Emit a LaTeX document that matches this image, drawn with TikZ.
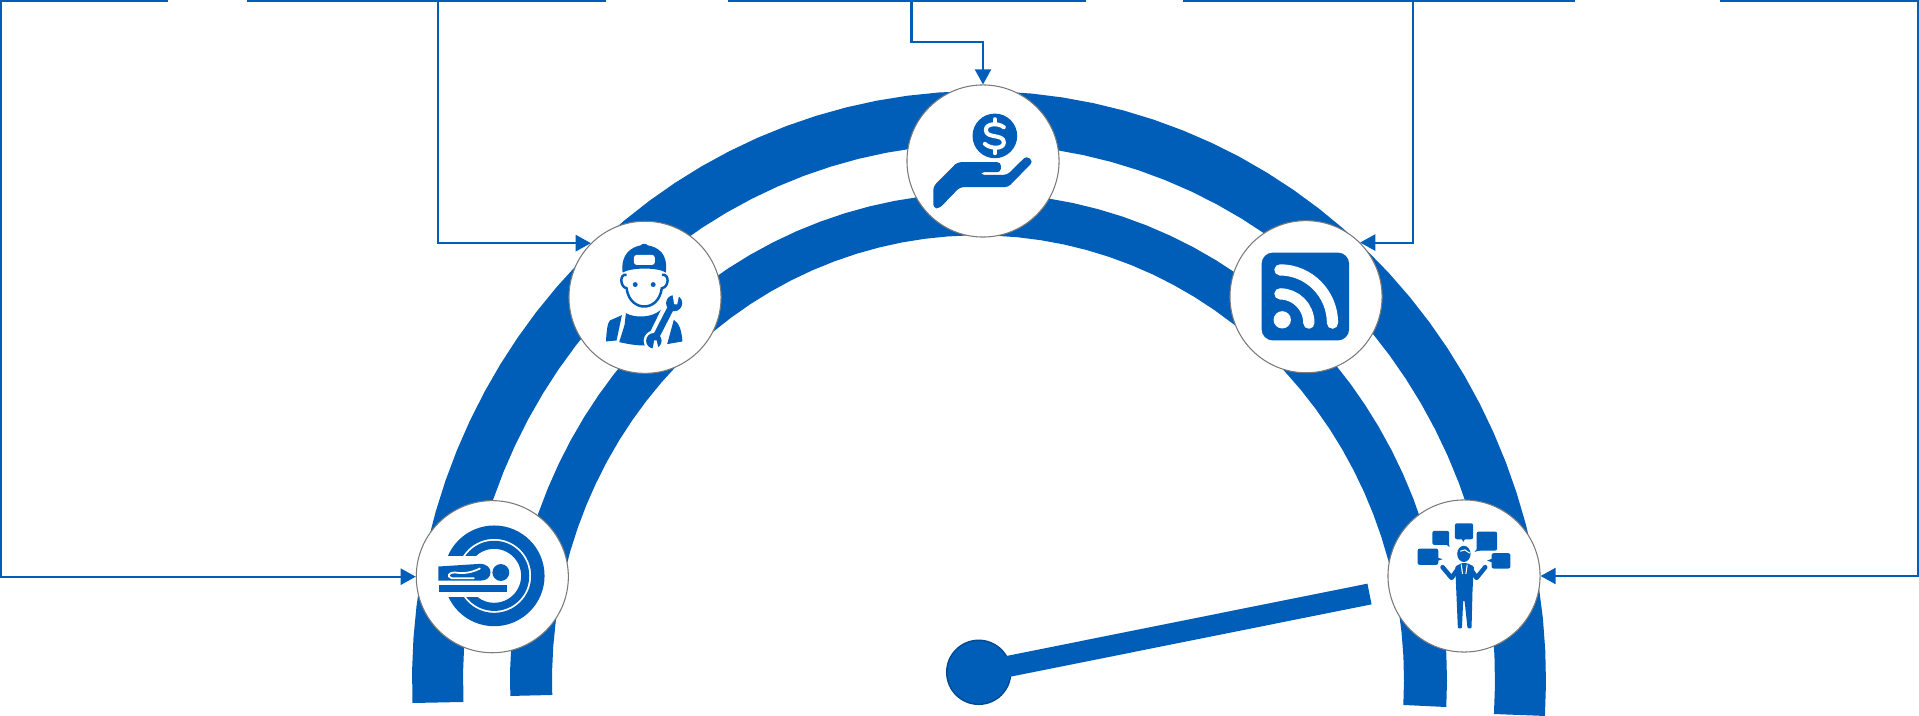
\documentclass[tikz,border=0pt]{standalone}
\usepackage{tikz}
\usetikzlibrary{arrows.meta,positioning}
\definecolor{brand}{HTML}{005EB8}
\definecolor{branddark}{HTML}{004A94}
\definecolor{ringgray}{HTML}{7A7A7A}
\begin{document}
\begin{tikzpicture}[
    x=0.01cm, y=-0.01cm,
    band/.style={fill=brand, draw=none},
    station/.style={circle, draw=ringgray, line width=0.3pt, fill=white, minimum size=1.52cm, inner sep=0pt},
    wire/.style={draw=brand, line width=0.58pt},
    feed/.style={wire, -{Triangle[length=4.3pt,width=4.6pt]}},
    glyph/.style={fill=brand, draw=none},
    icon/.style={x=0.003333cm, y=-0.003333cm}
  ]
  \useasboundingbox (0,0) rectangle (1919,716);
  % the two curved tracks
  \fill[band] plot[domain=-3.5:182.24,samples=60] ({979+567*cos(\x)},{680-589*sin(\x)})
    -- plot[domain=182.35:-3.64,samples=60] ({979+516*cos(\x)},{680-536*sin(\x)}) -- cycle;
  \fill[band] plot[domain=-3.18:181.88,samples=60] ({978.5+468.5*cos(\x)},{680-487*sin(\x)})
    -- plot[domain=181.93:-3.22,samples=60] ({978+426*cos(\x)},{680-444.7*sin(\x)}) -- cycle;
  % dial
  \node[circle, fill=brand, draw=branddark, line width=0.4pt, minimum size=0.64cm, inner sep=0pt] (hub) at (978.7,672.3) {};
  \coordinate (needleEnd) at (1369.5,594);
  \draw[draw=brand, line width=6pt, shorten <=-1.5pt] (hub) -- (needleEnd);
  % stations
  \node[station] (scan) at (492.3,576.7) {};
  \node[station] (mech) at (645,297.3) {};
  \node[station] (pay) at (983,161) {};
  \node[station] (feedicon) at (1306,296.7) {};
  \node[station] (talk) at (1464,576) {};
  % upper edge
  \foreach \a/\b in {0/168,247/606,728/1086,1183/1575,1720/1919}
    \draw[wire] (\a,1) -- (\b,1);
  % feeds
  \coordinate (scanIn) at (1,0);
  \coordinate (mechIn) at (438,0);
  \coordinate (payIn) at (911.5,0);
  \coordinate (payBend) at (983,42);
  \coordinate (feedIn) at (1413,0);
  \coordinate (talkIn) at (1918,0);
  \draw[feed] (scanIn) |- (scan.west);
  \draw[feed] (mechIn) |- (mech.north west);
  \draw[feed] (payIn) |- (payBend) -- (pay.north);
  \draw[feed] (feedIn) |- (feedicon.north east);
  \draw[feed] (talkIn) |- (talk.east);
  % scanner
  \begin{scope}[shift={(400,480)},icon]
    \draw[brand, line width=3.8pt] (283,288) circle[radius=12.42pt];
    \draw[brand, line width=2.3pt] (283,288) circle[radius=8.82pt];
    \fill[white] (110,228) rectangle (283,352);
    \fill[glyph] (115,260) -- (240,252) .. controls (262,252) and (272,265) .. (272,277)
      .. controls (272,292) and (260,302) .. (245,302) -- (115,302) -- cycle;
    \draw[white, line width=0.5pt, line cap=round] (222,295) -- (155,295) .. controls (140,290) and (145,278) .. (165,278)
      .. controls (195,282) and (215,278) .. (240,266);
    \fill[glyph] (303,278) circle[radius=2.4pt];
    \fill[glyph] (117,315) rectangle (320,336);
  \end{scope}
  % mechanic
  \begin{scope}[shift={(560,210)},icon]
    \fill[glyph] (188,188) .. controls (182,130) and (215,112) .. (243,106)
      .. controls (246,100) and (260,100) .. (263,106)
      .. controls (295,112) and (325,130) .. (318,188)
      .. controls (295,172) and (215,172) .. (188,188) -- cycle;
    \fill[white, rounded corners=0.8pt] (222,135) rectangle (285,165);
    \draw[brand, line width=0.7pt] (200,195) .. controls (178,190) and (180,232) .. (200,235)
      .. controls (205,275) and (232,290) .. (253,290)
      .. controls (275,290) and (300,275) .. (306,235)
      .. controls (328,232) and (330,190) .. (306,195);
    \fill[glyph] (226,224) circle[radius=0.7pt];
    \fill[glyph] (280,224) circle[radius=0.7pt];
    \fill[glyph] (138,395) .. controls (140,365) and (142,340) .. (150,332) -- (186,316) -- (170,392) -- cycle;
    \fill[glyph] (198,310) .. controls (225,325) and (275,325) .. (303,300) -- (265,378) -- (258,407) .. controls (230,408) and (200,402) .. (178,397) -- (194,345) -- cycle;
    \fill[glyph] (342,330) .. controls (358,340) and (365,360) .. (368,395) -- (322,403) -- cycle;
    \fill[white] (340,280) circle[radius=2.9pt];
    \fill[white] (282,393) circle[radius=2.9pt];
    \draw[white, line width=3.1pt] (282,393) -- (340,280);
    \draw[brand, line width=1.9pt] (282,393) -- (340,280);
    \fill[glyph] (343,280) circle[radius=2.3pt];
    \fill[glyph] (282,393) circle[radius=2.2pt];
    \fill[white] (338,252) -- (358,256) -- (352,284) -- (343,283) -- cycle;
    \fill[white] (278,420) -- (297,420) -- (290,392) -- (283,392) -- cycle;
  \end{scope}
  % payment
  \begin{scope}[shift={(900,80)},icon]
    \fill[glyph] (285,168) circle[radius=6.35pt];
    \draw[white, line width=1.15pt, line cap=round] (312,142) .. controls (295,128) and (258,130) .. (258,150)
      .. controls (258,178) and (312,160) .. (312,188) .. controls (312,208) and (272,208) .. (255,192);
    \draw[white, line width=1.15pt, line cap=round] (285,118) -- (285,130);
    \draw[white, line width=1.15pt, line cap=round] (285,208) -- (285,220);
    \fill[glyph, rounded corners=1pt] (100,385) -- (100,320) -- (172,247) -- (303,247) -- (303,277) -- (242,277)
      -- (242,285) -- (322,285) -- (380,228) -- (400,245) -- (325,322) -- (180,322) -- (118,386) -- cycle;
  \end{scope}
  % feed symbol
  \begin{scope}[shift={(1220,210)},icon]
    \fill[glyph, rounded corners=3.2pt] (125,128) rectangle (388,392);
    \fill[white] (187,330) circle[radius=2.46pt];
    \draw[white, line width=3.2pt, line cap=round] (180,252) .. controls (228,252) and (267,291) .. (267,340);
    \draw[white, line width=3.2pt, line cap=round] (180,180) .. controls (268,180) and (338,252) .. (338,340);
  \end{scope}
  % speaker
  \begin{scope}[shift={(1380,490)},icon]
    \fill[glyph, rounded corners=0.6pt] (113,176) rectangle (175,225);
    \fill[glyph] (172,203) -- (188,208) -- (172,213) -- cycle;
    \fill[glyph, rounded corners=0.6pt] (157,123) rectangle (208,165);
    \fill[glyph] (195,162) -- (209,171) -- (207,160) -- cycle;
    \fill[glyph, rounded corners=0.6pt] (225,100) rectangle (280,148);
    \fill[glyph] (245,145) -- (250,156) -- (257,145) -- cycle;
    \fill[glyph, rounded corners=0.6pt] (290,125) rectangle (352,182);
    \fill[glyph] (293,175) -- (284,186) -- (305,180) -- cycle;
    \fill[glyph, rounded corners=0.6pt] (335,190) rectangle (392,236);
    \fill[glyph] (338,206) -- (322,212) -- (338,218) -- cycle;
    \fill[glyph] (252,192) ellipse[x radius=1.9pt, y radius=2.3pt];
    \draw[white, line width=0.3pt] (241,184) -- (255,180) -- (270,190);
    \draw[brand, line width=1.3pt, line cap=round, line join=round] (188,232) -- (215,264) -- (232,240);
    \draw[brand, line width=1.3pt, line cap=round, line join=round] (316,232) -- (290,264) -- (274,240);
    \fill[glyph, rounded corners=0.3pt] (226,230) -- (245,220) -- (262,220) -- (282,230) -- (278,300) -- (275,416)
      -- (263,416) -- (254,332) -- (250,332) -- (246,416) -- (234,416) -- (229,300) -- cycle;
    \draw[white, line width=0.3pt] (244,224) -- (248,252);
    \draw[white, line width=0.3pt] (262,224) -- (258,252);
  \end{scope}
\end{tikzpicture}
\end{document}
